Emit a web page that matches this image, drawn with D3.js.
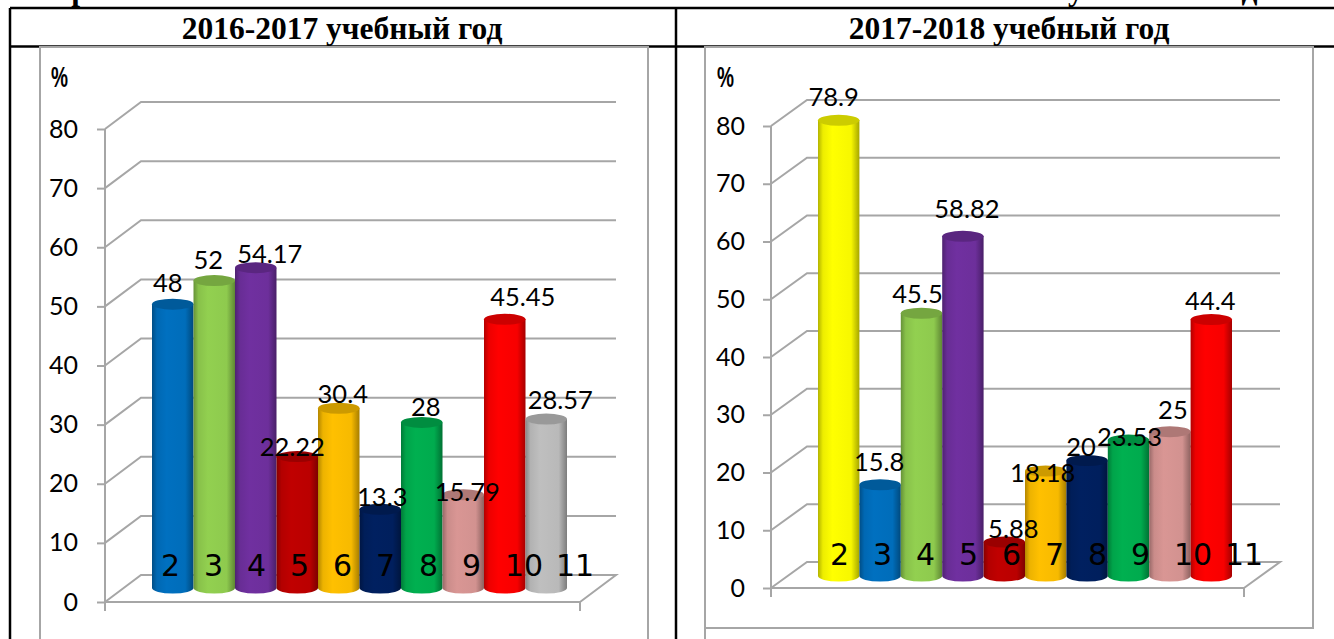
<!DOCTYPE html>
<html>
<head>
<meta charset="utf-8">
<script src="https://cdnjs.cloudflare.com/ajax/libs/d3/7.8.5/d3.min.js"></script>
<style>
  html, body { margin: 0; padding: 0; background: #fff; overflow: hidden; }
  svg { display: block; }
  .val { font-family: Lato, sans-serif; font-size: 25.5px; fill: #000; }
  .cat { font-family: "DejaVu Sans", sans-serif; font-size: 30px; fill: #000; }
  .head { font-family: "Liberation Serif", serif; font-weight: bold; font-size: 31.5px; }
</style>
</head>
<body>
<div class="charts"></div>
<script>
var categories = ["2", "3", "4", "5", "6", "7", "8", "9", "10", "11"];
var yTicks = [0, 10, 20, 30, 40, 50, 60, 70, 80];

var values1617 = [48, 52, 54.17, 22.22, 30.4, 13.3, 28, 15.79, 45.45, 28.57];
var labels1617 = ["48", "52", "54.17", "22.22", "30.4", "13.3", "28", "15.79", "45.45", "28.57"];
var colors1617 = ["#0070c0", "#92d050", "#7030a0", "#c00000", "#ffc000", "#002060", "#00b050", "#d99694", "#ff0000", "#bfbfbf"];

var values1718 = [78.9, 15.8, 45.5, 58.82, 5.88, 18.18, 20, 23.53, 25, 44.4];
var labels1718 = ["78.9", "15.8", "45.5", "58.82", "5.88", "18.18", "20", "23.53", "25", "44.4"];
var colors1718 = ["#ffff00", "#0070c0", "#92d050", "#7030a0", "#c00000", "#ffc000", "#002060", "#00b050", "#d99694", "#ff0000"];

// hand placed data labels in the original, offsets from the top of the bar
var nudge1617 = [[-5, -22], [-6, -22], [14, -15], [-5, -11], [4, -15], [2, -13], [4, -16], [4, -4], [18, -23], [14, -20]];
var nudge1718 = [[-5, -24], [-1, -24], [-4, -20], [4, -28], [9, -14], [-3, 1], [-6, -15], [1, -4], [3, -23], [-1, -20]];

var width = 1334, height = 639;

var svg = d3.select(".charts").append("svg")
  .attr("width", width)
  .attr("height", height);

var defs = svg.append("defs");

// table behind the charts, its caption is cut by the top of the page
svg.append("text").attr("class", "head")
  .attr("x", 47).attr("y", 0)
  .attr("textLength", 1245)
  .text("Сравнение качества знаний в 2-11 классах по школе в 2016-2018 учебных годах");

var black = svg.append("g").attr("stroke", "#000").attr("stroke-width", 2.5);
black.append("line").attr("x1", 10).attr("x2", width).attr("y1", 8).attr("y2", 8);
black.append("line").attr("x1", 10).attr("x2", width).attr("y1", 46.5).attr("y2", 46.5);
black.append("line").attr("x1", 10).attr("x2", 10).attr("y1", 8).attr("y2", height);
black.append("line").attr("x1", 676).attr("x2", 676).attr("y1", 8).attr("y2", height);

svg.append("text").attr("class", "head").attr("x", 342).attr("y", 39).attr("text-anchor", "middle").text("2016-2017 учебный год");
svg.append("text").attr("class", "head").attr("x", 1009).attr("y", 39).attr("text-anchor", "middle").text("2017-2018 учебный год");

function shade(c, k) {
  return d3.interpolateRgb(c, "#000")(k);
}

function addGradient(id, c) {
  var g = defs.append("linearGradient").attr("id", id);
  g.append("stop").attr("offset", "0%").attr("stop-color", shade(c, 0.3));
  g.append("stop").attr("offset", "12%").attr("stop-color", shade(c, 0.07));
  g.append("stop").attr("offset", "35%").attr("stop-color", c);
  g.append("stop").attr("offset", "80%").attr("stop-color", shade(c, 0.03));
  g.append("stop").attr("offset", "100%").attr("stop-color", shade(c, 0.35));
}

function drawPanel(p) {
  var g = svg.append("g");

  // grey frame of the chart
  g.append("path")
    .attr("d", p.frameBottom
      ? "M" + p.frameLeft + "," + height + "V47H" + p.frameRight + "V" + p.frameBottom + "H" + p.frameLeft + "Z"
      : "M" + p.frameLeft + "," + height + "V47H" + p.frameRight + "V" + height)
    .attr("fill", "#fff")
    .attr("stroke", "#a6a6a6")
    .attr("stroke-width", 2);

  var y = d3.scaleLinear().domain([0, 80]).range([p.y0, p.y80]);
  var frontEnd = p.axisX + p.floorWidth;

  // gridlines on the side and back wall
  g.append("g").selectAll("path")
    .data(yTicks)
    .enter().append("path")
    .attr("d", function(d) {
      var py = y(d);
      var s = "M" + p.axisX + "," + py + "L" + (p.axisX + p.depthX) + "," + (py + p.depthY) + "H" + (frontEnd + p.depthX);
      if (d === 0) s += "L" + frontEnd + "," + py;
      return s;
    })
    .attr("fill", "none")
    .attr("stroke", "#a6a6a6")
    .attr("stroke-width", 2);

  // y axis
  var axis = d3.axisLeft(y).tickValues(yTicks).tickSize(8).tickPadding(p.tickPad);
  var ag = g.append("g").attr("transform", "translate(" + p.axisX + ",0)").call(axis);
  ag.select(".domain").remove();
  ag.selectAll("line").attr("stroke", "#a6a6a6").attr("stroke-width", 2);
  ag.selectAll("text").attr("font-family", "Lato, sans-serif").attr("font-size", 25).attr("fill", "#000");

  // axis line and the two ticks under the floor
  g.append("path")
    .attr("d", "M" + p.axisX + "," + y(80) + "V" + (y(0) + 9) + "M" + p.axisX + "," + y(0) + "H" + frontEnd + "M" + frontEnd + "," + y(0) + "V" + (y(0) + 9))
    .attr("fill", "none")
    .attr("stroke", "#a6a6a6")
    .attr("stroke-width", 2);

  // cylinders
  var x = d3.scaleBand().domain(categories).range([p.barLeft, p.barRight]).padding(0);
  var bw = x.bandwidth();
  var h = d3.scaleLinear().domain([0, 80]).range([0, p.y0 - p.y80]);
  var ry = 5.5;

  p.colors.forEach(function(c, i) {
    addGradient(p.id + "g" + i, c);
  });

  var bars = g.append("g").selectAll("g")
    .data(p.values)
    .enter().append("g");

  bars.append("path")
    .attr("d", function(d, i) {
      var x0 = x(categories[i]);
      var top = p.barBase - h(d);
      return "M" + x0 + "," + top + "V" + p.barBase +
        "A" + (bw / 2) + "," + ry + " 0 0 0 " + (x0 + bw) + "," + p.barBase +
        "V" + top + "Z";
    })
    .attr("fill", function(d, i) { return "url(#" + p.id + "g" + i + ")"; });

  bars.append("ellipse")
    .attr("cx", function(d, i) { return x(categories[i]) + bw / 2; })
    .attr("cy", function(d) { return p.barBase - h(d); })
    .attr("rx", bw / 2)
    .attr("ry", ry)
    .attr("fill", function(d, i) { return shade(p.colors[i], 0.2); });

  // category numbers sit on top of the bars, start aligned as in the original
  var cx = d3.scalePoint().domain(categories).range([p.catStart, p.catStart + 43 * 9]);
  g.append("g").selectAll("text")
    .data(categories)
    .enter().append("text")
    .attr("class", "cat")
    .attr("x", function(d) { return cx(d) + (d === "11" ? 8 : 0); })
    .attr("y", p.catY)
    .text(function(d) { return d; });

  // data labels
  g.append("g").selectAll("text")
    .data(p.values)
    .enter().append("text")
    .attr("class", "val")
    .attr("text-anchor", "middle")
    .attr("dominant-baseline", "central")
    .attr("x", function(d, i) { return x(categories[i]) + bw / 2 + p.nudge[i][0]; })
    .attr("y", function(d, i) { return p.barBase - h(d) + p.nudge[i][1]; })
    .text(function(d, i) { return p.labels[i]; });

  g.append("text")
    .attr("x", p.pctX).attr("y", 87)
    .attr("font-family", "'Liberation Sans', sans-serif")
    .attr("font-weight", "bold")
    .attr("font-size", 30)
    .attr("textLength", 17)
    .attr("lengthAdjust", "spacingAndGlyphs")
    .text("%");
}

drawPanel({
  id: "a", values: values1617, labels: labels1617, colors: colors1617, nudge: nudge1617,
  frameLeft: 40, frameRight: 648, frameBottom: null,
  axisX: 105, floorWidth: 475, depthX: 36, depthY: -27, y0: 602, y80: 129, tickPad: 19,
  barLeft: 152, barRight: 567, barBase: 588, catStart: 161, catY: 576, pctX: 51
});

drawPanel({
  id: "b", values: values1718, labels: labels1718, colors: colors1718, nudge: nudge1718,
  frameLeft: 705, frameRight: 1313, frameBottom: 628,
  axisX: 771, floorWidth: 473, depthX: 36, depthY: -26, y0: 588, y80: 126, tickPad: 18,
  barLeft: 818, barRight: 1232, barBase: 576, catStart: 830, catY: 565, pctX: 717
});
</script>
</body>
</html>
